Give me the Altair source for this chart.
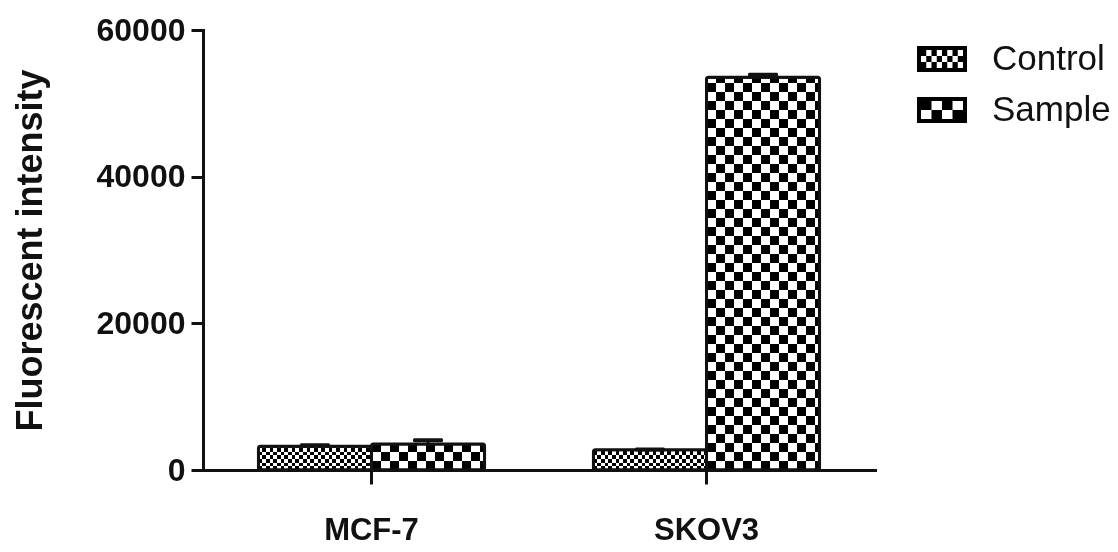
import altair as alt
import pandas as pd

# ---------------- data ----------------
cats = ["MCF-7", "SKOV3"]
groups = ["Control", "Sample"]
control_vals = [3250, 2750]
sample_vals = [3550, 53550]
control_err = [120, 60]
sample_err = [500, 350]
y_ticks = [0, 20000, 40000, 60000]

records = []
for i, c in enumerate(cats):
    records.append({"cat": c, "group": "Control", "value": control_vals[i], "err": control_err[i]})
    records.append({"cat": c, "group": "Sample", "value": sample_vals[i], "err": sample_err[i]})
df = pd.DataFrame(records)
df["hi"] = df["value"] + df["err"]

# ---------------- style ----------------
W, H = 672, 440
YMAX = 60000
FONT = "Liberation Sans"
INK = "#111111"
SQ = {"Control": 3.7, "Sample": 9.0}   # checker square size (px)
BAR_W = 113                             # approx bar width (px)


def stripes(n, along_x, c0="black", c1="white"):
    stops = []
    step = 1.0 / n
    pos, k = 0.0, 0
    while pos < 1.0 - 1e-9:
        col = c0 if k % 2 == 0 else c1
        end = min(pos + step, 1.0)
        stops.append(alt.GradientStop(offset=round(pos, 5), color=col))
        stops.append(alt.GradientStop(offset=round(end, 5), color=col))
        pos, k = end, k + 1
    if along_x:
        return alt.LinearGradient(gradient="linear", stops=stops, x1=0, x2=1, y1=0, y2=0)
    return alt.LinearGradient(gradient="linear", stops=stops, x1=0, x2=0, y1=1, y2=0)


def checker_path(ncols, nrows, wpx, hpx, t, scale):
    a, b, tt = wpx / 2 / scale, hpx / 2 / scale, t / scale
    f = lambda v: f"{v:.4f}"
    p = f"M{f(-a)},{f(-b)}H{f(a)}V{f(b)}H{f(-a)}Z"
    p += f"M{f(-a + tt)},{f(-b + tt)}V{f(b - tt)}H{f(a - tt)}V{f(-b + tt)}Z"
    cw = 2 * (a - tt) / ncols
    ch = 2 * (b - tt) / nrows
    for r in range(nrows):
        for c in range(ncols):
            if (r + c) % 2 == 0:
                x0 = -a + tt + c * cw
                y0 = -b + tt + r * ch
                p += f"M{f(x0)},{f(y0)}H{f(x0 + cw)}V{f(y0 + ch)}H{f(x0)}Z"
    return p


LEG_SCALE = 22
path_control = checker_path(8, 3, 50, 26, 4, LEG_SCALE)
path_sample = checker_path(4, 2, 50, 26, 4, LEG_SCALE)

x_enc = alt.X(
    "cat:N",
    scale=alt.Scale(domain=cats, paddingInner=0.325, paddingOuter=0.1655),
    axis=alt.Axis(
        title=None, labelAngle=0, labelFont=FONT, labelFontSize=31, labelFontWeight="bold",
        labelColor=INK, labelPadding=31, tickSize=14, tickWidth=3, tickColor=INK,
        domainWidth=3, domainColor=INK, domainCap="square",
    ),
)
xo_enc = alt.XOffset("group:N", scale=alt.Scale(domain=groups, paddingInner=0, paddingOuter=0))
y_enc = alt.Y(
    "value:Q",
    scale=alt.Scale(domain=[0, YMAX], nice=False),
    axis=alt.Axis(
        values=y_ticks, format="d", title="Fluorescent intensity", grid=False,
        titleFont=FONT, titleFontSize=36, titleFontWeight="bold", titleColor=INK, titlePadding=47,
        labelFont=FONT, labelFontSize=32, labelFontWeight="bold", labelColor=INK, labelPadding=6,
        tickSize=12, tickWidth=3, tickColor=INK, domainWidth=3, domainColor=INK, domainCap="square",
    ),
)

base = alt.Chart(df)

layers = []
# legend carrier (invisible)
layers.append(
    base.mark_point(filled=True, fill="black", opacity=0, size=10).encode(
        x=x_enc, xOffset=xo_enc, y=y_enc,
        shape=alt.Shape(
            "group:N",
            scale=alt.Scale(domain=groups, range=[path_control, path_sample]),
            legend=alt.Legend(
                title=None, orient="none", legendX=717, legendY=7, padding=0,
                symbolSize=LEG_SCALE * LEG_SCALE * 4, symbolFillColor="black", symbolOpacity=1,
                symbolStrokeWidth=0, labelFont=FONT, labelFontSize=35, labelColor=INK,
                labelOffset=28, rowPadding=11,
            ),
        ),
    )
)

# base column stripes per group
for g in groups:
    layers.append(
        base.transform_filter(alt.datum.group == g)
        .mark_bar(fill=stripes(BAR_W / SQ[g], True), strokeWidth=0)
        .encode(x=x_enc, xOffset=xo_enc, y=y_enc)
    )

# row stripes blended with difference -> checkerboard
for i, c in enumerate(cats):
    for g, vals in (("Control", control_vals), ("Sample", sample_vals)):
        hpx = vals[i] / YMAX * H
        layers.append(
            base.transform_filter((alt.datum.group == g) & (alt.datum.cat == c))
            .mark_bar(fill=stripes(hpx / SQ[g], False, "black", "white"), blend="difference", strokeWidth=0)
            .encode(x=x_enc, xOffset=xo_enc, y=y_enc)
        )

# outlines
layers.append(
    base.mark_bar(fill="transparent", stroke=INK, strokeWidth=3, cornerRadius=2)
    .encode(x=x_enc, xOffset=xo_enc, y=y_enc)
)
# error bars
layers.append(
    base.mark_rule(color=INK, strokeWidth=3).encode(x=x_enc, xOffset=xo_enc, y=y_enc, y2="hi:Q")
)
layers.append(
    base.mark_tick(orient="horizontal", color=INK, size=30, thickness=4, cornerRadius=1.5, opacity=1)
    .encode(x=x_enc, xOffset=xo_enc, y=alt.Y("hi:Q", scale=alt.Scale(domain=[0, YMAX], nice=False)))
)

chart = (
    alt.layer(*layers)
    .properties(
        width=W, height=H,
        autosize=alt.AutoSizeParams(type="none"),
        padding={"left": 195, "top": 22, "right": 235, "bottom": 80},
        background="white",
    )
    .configure_view(stroke=None)
)

chart.save("out.html", embed_options={"renderer": "svg", "actions": False})
